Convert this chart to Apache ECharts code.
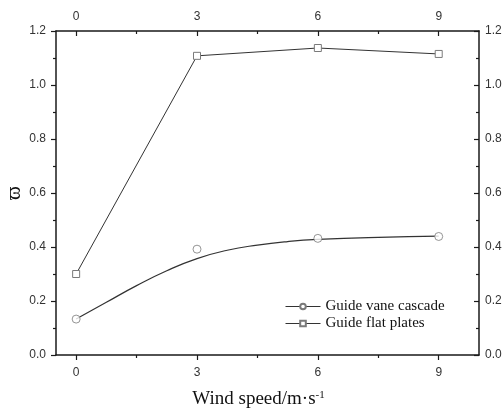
<!DOCTYPE html>
<html>
<head>
<meta charset="utf-8">
<script src="https://cdn.jsdelivr.net/npm/echarts@6/dist/echarts.min.js"></script>
<style>
  html, body { margin: 0; padding: 0; background: #fff; }
  #chart { width: 502px; height: 408px; }
</style>
</head>
<body>
<div id="chart"></div>
<script>
// Wind speed values (m/s) where measurements were taken
const windSpeeds = [0, 3, 6, 9];
const minorTickSpeeds = [1.5, 4.5, 7.5];

// Measured values
const vaneCascade = [0.133, 0.392, 0.432, 0.439];
const flatPlates = [0.300, 1.108, 1.137, 1.115];

// Fitted trend through the guide vane cascade measurements
const vaneFitSpeeds = [0, 0.75, 1.5, 2.25, 3, 3.75, 4.5, 5.25, 6, 7.5, 9];
const vaneFitValues = [0.133, 0.195, 0.257, 0.312, 0.357, 0.388, 0.407, 0.420, 0.428, 0.436, 0.440];

const seriesNames = ['Guide vane cascade', 'Guide flat plates'];

const SANS = 'Liberation Sans, Arial, sans-serif';
const SERIF = 'Liberation Serif, Times New Roman, serif';
const AXIS_COLOR = '#1a1a1a';
const LINE_COLOR = '#333';
const MARK_COLOR = '#7a7a7a';

const pairs = (xs, ys) => xs.map((x, i) => [x, ys[i]]);

const chart = echarts.init(document.getElementById('chart'), null, { renderer: 'canvas' });

const baseX = {
  type: 'value', min: -0.5, max: 10,
  splitLine: { show: false },
  axisLine: { show: true, onZero: false, lineStyle: { color: AXIS_COLOR, width: 1.5 } }
};

const baseY = {
  type: 'value', min: 0, max: 1.2, interval: 0.2,
  splitLine: { show: false },
  minorSplitLine: { show: false },
  axisLine: { show: true, onZero: false, lineStyle: { color: AXIS_COLOR, width: 1.5 } },
  axisLabel: {
    fontFamily: SANS, fontSize: 12, color: '#333',
    formatter: v => v.toFixed(1)
  }
};

chart.setOption({
  backgroundColor: '#fff',
  animation: false,
  grid: { left: 56, right: 23, top: 31, bottom: 53, containLabel: false, outerBoundsMode: 'none' },
  legend: {
    data: seriesNames,
    orient: 'vertical',
    left: 280, top: 294,
    itemWidth: 35, itemHeight: 7, itemGap: 2,
    lineStyle: { width: 1, color: LINE_COLOR },
    textStyle: { fontFamily: SERIF, fontSize: 15, color: '#111' }
  },
  xAxis: [
    Object.assign({}, baseX, {
      position: 'bottom',
      axisTick: { show: true, inside: false, length: 5, customValues: windSpeeds, lineStyle: { color: AXIS_COLOR, width: 1.2 } },
      axisLabel: { show: true, customValues: windSpeeds, margin: 12, fontFamily: SANS, fontSize: 12, color: '#333' },
      name: '{a|Wind speed/m·s}{b|-1}',
      nameLocation: 'middle',
      nameGap: 35,
      nameTextStyle: {
        padding: [0, 18, 0, 0],
        rich: {
          a: { fontFamily: SERIF, fontSize: 19, color: '#111' },
          b: { fontFamily: SERIF, fontSize: 11, color: '#111', verticalAlign: 'top' }
        }
      }
    }),
    Object.assign({}, baseX, {
      position: 'bottom',
      axisLine: { show: false, onZero: false },
      axisTick: { show: true, inside: false, length: 3, customValues: minorTickSpeeds, lineStyle: { color: AXIS_COLOR, width: 1.2 } },
      axisLabel: { show: false }
    }),
    Object.assign({}, baseX, {
      position: 'top',
      axisTick: { show: true, inside: true, length: 5, customValues: windSpeeds, lineStyle: { color: AXIS_COLOR, width: 1.2 } },
      axisLabel: { show: true, customValues: windSpeeds, margin: 8, fontFamily: SANS, fontSize: 12, color: '#333' }
    }),
    Object.assign({}, baseX, {
      position: 'top',
      axisLine: { show: false, onZero: false },
      axisTick: { show: true, inside: true, length: 3, customValues: minorTickSpeeds, lineStyle: { color: AXIS_COLOR, width: 1.2 } },
      axisLabel: { show: false }
    })
  ],
  yAxis: [
    Object.assign({}, baseY, {
      position: 'left',
      axisTick: { show: true, inside: false, length: 5, lineStyle: { color: AXIS_COLOR, width: 1.2 } },
      minorTick: { show: true, splitNumber: 2, length: 3, lineStyle: { color: AXIS_COLOR, width: 1.2 } },
      axisLabel: Object.assign({}, baseY.axisLabel, { margin: 10 }),
      name: 'ϖ',
      nameLocation: 'middle',
      nameGap: 31,
      nameMoveOverlap: false,
      nameTextStyle: { fontFamily: SERIF, fontSize: 21, color: '#111' }
    }),
    Object.assign({}, baseY, {
      position: 'right',
      axisTick: { show: true, inside: true, length: 5, lineStyle: { color: AXIS_COLOR, width: 1.2 } },
      minorTick: { show: true, splitNumber: 2, length: 3, lineStyle: { color: AXIS_COLOR, width: 1.2 } },
      axisLabel: Object.assign({}, baseY.axisLabel, { margin: 6 })
    })
  ],
  series: [
    {
      name: seriesNames[0],
      type: 'line',
      smooth: true,
      data: pairs(vaneFitSpeeds, vaneFitValues),
      symbol: 'circle',
      showSymbol: false,
      itemStyle: { color: '#fff', borderColor: MARK_COLOR, borderWidth: 1 },
      lineStyle: { color: LINE_COLOR, width: 1.2 },
      z: 2
    },
    {
      name: 'Guide vane cascade (measured)',
      type: 'scatter',
      data: pairs(windSpeeds, vaneCascade),
      symbol: 'circle',
      symbolSize: 8,
      itemStyle: { color: '#fff', borderColor: MARK_COLOR, borderWidth: 1 },
      z: 3
    },
    {
      name: seriesNames[1],
      type: 'line',
      data: pairs(windSpeeds, flatPlates),
      symbol: 'rect',
      symbolSize: 7,
      itemStyle: { color: '#fff', borderColor: MARK_COLOR, borderWidth: 1 },
      lineStyle: { color: LINE_COLOR, width: 1 },
      z: 3
    }
  ]
});
</script>
</body>
</html>
